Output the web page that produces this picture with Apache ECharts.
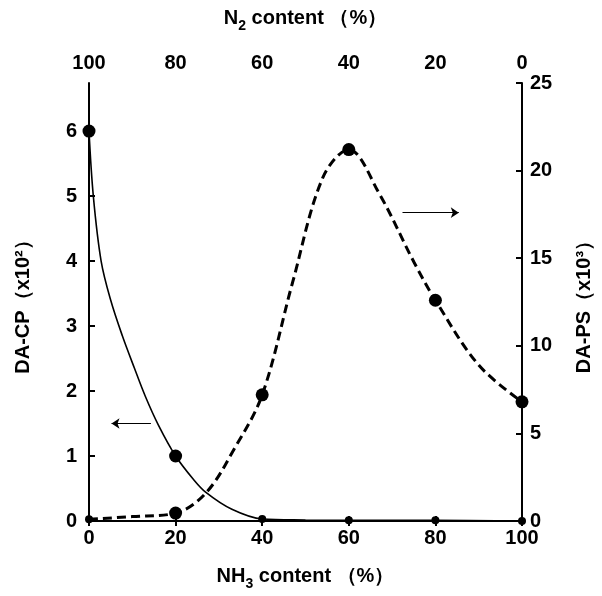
<!DOCTYPE html>
<html>
<head>
<meta charset="utf-8">
<script src="https://cdn.jsdelivr.net/npm/echarts@6/dist/echarts.min.js"></script>
<style>
  html, body { margin: 0; background: #fff; }
  #chart { width: 602px; height: 596px; }
</style>
</head>
<body>
<div id="chart"></div>
<script>
// measured points (NH3 content, %)
var nh3 = [0, 20, 40, 60, 80, 100];
var daCP = [6.0, 1.0, 0.03, 0.01, 0.01, 0];
var daPS = [0.1, 0.45, 7.2, 21.2, 12.6, 6.8];

// the drawn curves
var cpCurveX = [0, 1, 2.8, 5, 7.7, 10.5, 13, 16, 20, 24, 27, 33, 40, 50, 60, 80, 100];
var cpCurveY = [6.0, 5.0, 4.0, 3.4, 2.85, 2.35, 1.92, 1.48, 1.0, 0.65, 0.44, 0.18, 0.03, 0.015, 0.01, 0.01, 0];
var psCurveX = [0, 10, 20, 27, 33.5, 40, 47, 54, 60, 67, 75, 80, 90, 100];
var psCurveY = [0.1, 0.25, 0.45, 1.6, 4.1, 7.2, 13.6, 19.6, 21.2, 18.7, 14.8, 12.6, 8.9, 6.8];

// arrows telling which axis each curve uses
var cpArrow = [[14.3, 1.5], [5.2, 1.5]];
var psArrow = [[72.4, 17.6], [85.4, 17.6]];

var font = 'Liberation Sans';

function pairs(xs, ys) {
  return xs.map(function (x, i) { return [x, ys[i]]; });
}

var nameRich = {
  a: { fontFamily: font, fontSize: 20, fontWeight: 'bold', color: '#000', lineHeight: 30 },
  sub: { fontFamily: font, fontSize: 14, fontWeight: 'bold', color: '#000', lineHeight: 30, verticalAlign: 'bottom' }
};
var labelStyle = { fontFamily: font, fontSize: 20, fontWeight: 'bold', color: '#000' };
var lineStyle = { color: '#000', width: 2 };

var chart = echarts.init(document.getElementById('chart'));
chart.setOption({
  backgroundColor: '#fff',
  animation: false,
  grid: { left: 89, right: 72, top: 83, bottom: 69 },
  xAxis: [
    {
      type: 'value', position: 'bottom', min: 0, max: 100, interval: 20,
      name: '{a|NH}{sub|3}{a| content （%）}',
      nameLocation: 'middle', nameGap: 40,
      nameTextStyle: { rich: nameRich },
      axisLine: { lineStyle: lineStyle },
      axisTick: { inside: true, length: 5, lineStyle: lineStyle },
      axisLabel: Object.assign({ margin: 7 }, labelStyle),
      splitLine: { show: false }
    },
    {
      type: 'value', position: 'top', inverse: true, min: 0, max: 100, interval: 20,
      name: '{a|N}{sub|2}{a| content （%）}',
      nameLocation: 'middle', nameGap: 50,
      nameTextStyle: { rich: nameRich },
      axisLine: { lineStyle: lineStyle },
      axisTick: { inside: true, length: 5, lineStyle: lineStyle },
      axisLabel: Object.assign({ margin: 10 }, labelStyle),
      splitLine: { show: false }
    }
  ],
  yAxis: [
    {
      type: 'value', position: 'left', min: 0, max: 6.74, interval: 1,
      name: 'DA-CP（x10²）', nameLocation: 'middle', nameGap: 56, nameRotate: 90,
      nameTextStyle: { fontFamily: font, fontSize: 20, fontWeight: 'bold', color: '#000' },
      axisLine: { lineStyle: lineStyle },
      axisTick: { inside: true, length: 6, lineStyle: lineStyle },
      axisLabel: Object.assign({ margin: 12, showMaxLabel: false }, labelStyle),
      splitLine: { show: false }
    },
    {
      type: 'value', position: 'right', min: 0, max: 25, interval: 5,
      name: 'DA-PS（x10³）', nameLocation: 'middle', nameGap: 52, nameRotate: 90,
      nameTextStyle: { fontFamily: font, fontSize: 20, fontWeight: 'bold', color: '#000' },
      axisLine: { lineStyle: lineStyle },
      axisTick: { inside: true, length: 6, lineStyle: lineStyle },
      axisLabel: Object.assign({ margin: 8 }, labelStyle),
      splitLine: { show: false }
    }
  ],
  series: [
    {
      name: 'DA-CP curve', type: 'line', xAxisIndex: 0, yAxisIndex: 0,
      data: pairs(cpCurveX, cpCurveY), smooth: 0.35,
      showSymbol: false, lineStyle: { color: '#000', width: 1.6 }, z: 3
    },
    {
      name: 'DA-PS curve', type: 'line', xAxisIndex: 0, yAxisIndex: 1,
      data: pairs(psCurveX, psCurveY), smooth: 0.35,
      showSymbol: false, lineStyle: { color: '#000', width: 3, type: [9, 5] }, z: 3
    },
    {
      name: 'DA-CP', type: 'scatter', xAxisIndex: 0, yAxisIndex: 0,
      data: pairs(nh3, daCP),
      symbolSize: function (v) { return v[1] > 0.5 ? 13 : 8; },
      itemStyle: { color: '#000', opacity: 1 }, z: 4
    },
    {
      name: 'DA-PS', type: 'scatter', xAxisIndex: 0, yAxisIndex: 1,
      data: pairs(nh3, daPS),
      symbolSize: function (v) { return v[1] > 0.3 ? 13 : 8; },
      itemStyle: { color: '#000', opacity: 1 }, z: 4
    },
    {
      type: 'lines', coordinateSystem: 'cartesian2d', xAxisIndex: 0, yAxisIndex: 0,
      data: [{ coords: cpArrow }],
      symbol: ['none', 'arrow'], symbolSize: [0, 8],
      lineStyle: { color: '#000', width: 1.2, opacity: 1 }, z: 4
    },
    {
      type: 'lines', coordinateSystem: 'cartesian2d', xAxisIndex: 0, yAxisIndex: 1,
      data: [{ coords: psArrow }],
      symbol: ['none', 'arrow'], symbolSize: [0, 8],
      lineStyle: { color: '#000', width: 1.2, opacity: 1 }, z: 4
    }
  ]
});
</script>
</body>
</html>
